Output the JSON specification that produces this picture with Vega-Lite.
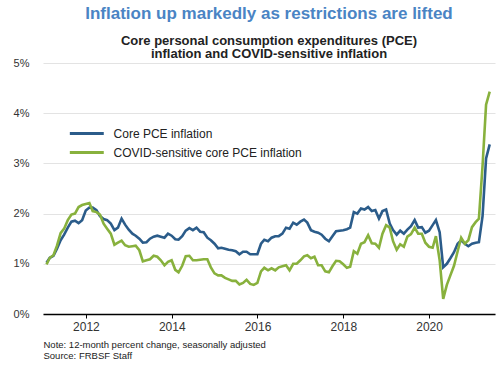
{
  "$schema": "https://vega.github.io/schema/vega-lite/v6.json",
  "width": 452,
  "height": 251,
  "autosize": "none",
  "padding": {"left": 43, "top": 63, "right": 5, "bottom": 51},
  "background": "white",
  "title": {
    "text": "Inflation up markedly as restrictions are lifted",
    "subtitle": ["Core personal consumption expenditures (PCE)", "inflation and COVID-sensitive inflation"],
    "anchor": "middle",
    "font": "Liberation Sans",
    "fontSize": 17,
    "fontWeight": "bold",
    "color": "#4a84c4",
    "subtitleFont": "Liberation Sans",
    "subtitleFontSize": 13,
    "subtitleFontWeight": "bold",
    "subtitleColor": "#222222",
    "subtitleLineHeight": 13.5,
    "subtitlePadding": 12,
    "offset": -5
  },
  "data": {"values": [
    {"date": "2011-01-31", "core": 1.02, "covid": 0.99},
    {"date": "2011-02-28", "core": 1.12, "covid": 1.12},
    {"date": "2011-03-31", "core": 1.16, "covid": 1.17},
    {"date": "2011-04-30", "core": 1.30, "covid": 1.36},
    {"date": "2011-05-31", "core": 1.47, "covid": 1.61},
    {"date": "2011-06-30", "core": 1.58, "covid": 1.70},
    {"date": "2011-07-31", "core": 1.72, "covid": 1.87},
    {"date": "2011-08-31", "core": 1.84, "covid": 1.98},
    {"date": "2011-09-30", "core": 1.86, "covid": 2.00},
    {"date": "2011-10-31", "core": 1.81, "covid": 2.13},
    {"date": "2011-11-30", "core": 1.87, "covid": 2.17},
    {"date": "2011-12-31", "core": 2.06, "covid": 2.19},
    {"date": "2012-01-31", "core": 2.12, "covid": 2.21},
    {"date": "2012-02-28", "core": 2.12, "covid": 2.05},
    {"date": "2012-03-31", "core": 2.07, "covid": 2.03},
    {"date": "2012-04-30", "core": 1.95, "covid": 1.98},
    {"date": "2012-05-31", "core": 1.89, "covid": 1.80},
    {"date": "2012-06-30", "core": 1.87, "covid": 1.70},
    {"date": "2012-07-31", "core": 1.80, "covid": 1.60},
    {"date": "2012-08-31", "core": 1.67, "covid": 1.38},
    {"date": "2012-09-30", "core": 1.72, "covid": 1.42},
    {"date": "2012-10-31", "core": 1.90, "covid": 1.46},
    {"date": "2012-11-30", "core": 1.78, "covid": 1.37},
    {"date": "2012-12-31", "core": 1.68, "covid": 1.34},
    {"date": "2013-01-31", "core": 1.60, "covid": 1.35},
    {"date": "2013-02-28", "core": 1.56, "covid": 1.36},
    {"date": "2013-03-31", "core": 1.50, "covid": 1.27},
    {"date": "2013-04-30", "core": 1.42, "covid": 1.05},
    {"date": "2013-05-31", "core": 1.43, "covid": 1.07},
    {"date": "2013-06-30", "core": 1.50, "covid": 1.09},
    {"date": "2013-07-31", "core": 1.54, "covid": 1.16},
    {"date": "2013-08-31", "core": 1.56, "covid": 1.14},
    {"date": "2013-09-30", "core": 1.54, "covid": 1.07},
    {"date": "2013-10-31", "core": 1.52, "covid": 0.97},
    {"date": "2013-11-30", "core": 1.60, "covid": 1.04},
    {"date": "2013-12-31", "core": 1.56, "covid": 1.07},
    {"date": "2014-01-31", "core": 1.49, "covid": 0.88},
    {"date": "2014-02-28", "core": 1.48, "covid": 0.83},
    {"date": "2014-03-31", "core": 1.55, "covid": 0.96},
    {"date": "2014-04-30", "core": 1.66, "covid": 1.15},
    {"date": "2014-05-31", "core": 1.71, "covid": 1.16},
    {"date": "2014-06-30", "core": 1.67, "covid": 1.07},
    {"date": "2014-07-31", "core": 1.72, "covid": 1.07},
    {"date": "2014-08-31", "core": 1.64, "covid": 1.08},
    {"date": "2014-09-30", "core": 1.63, "covid": 1.09},
    {"date": "2014-10-31", "core": 1.52, "covid": 1.09},
    {"date": "2014-11-30", "core": 1.47, "covid": 0.93},
    {"date": "2014-12-31", "core": 1.40, "covid": 0.81},
    {"date": "2015-01-31", "core": 1.31, "covid": 0.77},
    {"date": "2015-02-28", "core": 1.32, "covid": 0.77},
    {"date": "2015-03-31", "core": 1.30, "covid": 0.72},
    {"date": "2015-04-30", "core": 1.28, "covid": 0.69},
    {"date": "2015-05-31", "core": 1.27, "covid": 0.66},
    {"date": "2015-06-30", "core": 1.25, "covid": 0.66},
    {"date": "2015-07-31", "core": 1.19, "covid": 0.59},
    {"date": "2015-08-31", "core": 1.24, "covid": 0.62},
    {"date": "2015-09-30", "core": 1.24, "covid": 0.68},
    {"date": "2015-10-31", "core": 1.19, "covid": 0.60},
    {"date": "2015-11-30", "core": 1.19, "covid": 0.58},
    {"date": "2015-12-31", "core": 1.19, "covid": 0.62},
    {"date": "2016-01-31", "core": 1.40, "covid": 0.85},
    {"date": "2016-02-28", "core": 1.48, "covid": 0.92},
    {"date": "2016-03-31", "core": 1.45, "covid": 0.87},
    {"date": "2016-04-30", "core": 1.52, "covid": 0.91},
    {"date": "2016-05-31", "core": 1.55, "covid": 0.87},
    {"date": "2016-06-30", "core": 1.55, "covid": 0.93},
    {"date": "2016-07-31", "core": 1.60, "covid": 0.95},
    {"date": "2016-08-31", "core": 1.72, "covid": 0.97},
    {"date": "2016-09-30", "core": 1.70, "covid": 0.87},
    {"date": "2016-10-31", "core": 1.82, "covid": 1.00},
    {"date": "2016-11-30", "core": 1.78, "covid": 1.00},
    {"date": "2016-12-31", "core": 1.84, "covid": 1.07},
    {"date": "2017-01-31", "core": 1.88, "covid": 1.15},
    {"date": "2017-02-28", "core": 1.82, "covid": 1.17},
    {"date": "2017-03-31", "core": 1.67, "covid": 1.11},
    {"date": "2017-04-30", "core": 1.64, "covid": 1.14},
    {"date": "2017-05-31", "core": 1.62, "covid": 0.97},
    {"date": "2017-06-30", "core": 1.58, "covid": 0.97},
    {"date": "2017-07-31", "core": 1.50, "covid": 0.85},
    {"date": "2017-08-31", "core": 1.45, "covid": 0.83},
    {"date": "2017-09-30", "core": 1.55, "covid": 0.95},
    {"date": "2017-10-31", "core": 1.65, "covid": 1.06},
    {"date": "2017-11-30", "core": 1.66, "covid": 1.05},
    {"date": "2017-12-31", "core": 1.67, "covid": 0.99},
    {"date": "2018-01-31", "core": 1.69, "covid": 0.92},
    {"date": "2018-02-28", "core": 1.72, "covid": 0.94},
    {"date": "2018-03-31", "core": 2.03, "covid": 1.25},
    {"date": "2018-04-30", "core": 2.00, "covid": 1.20},
    {"date": "2018-05-31", "core": 2.10, "covid": 1.40},
    {"date": "2018-06-30", "core": 2.08, "covid": 1.43},
    {"date": "2018-07-31", "core": 2.13, "covid": 1.57},
    {"date": "2018-08-31", "core": 2.05, "covid": 1.41},
    {"date": "2018-09-30", "core": 2.07, "covid": 1.40},
    {"date": "2018-10-31", "core": 1.90, "covid": 1.32},
    {"date": "2018-11-30", "core": 2.05, "covid": 1.60},
    {"date": "2018-12-31", "core": 2.08, "covid": 1.77},
    {"date": "2019-01-31", "core": 1.80, "covid": 1.72},
    {"date": "2019-02-28", "core": 1.67, "covid": 1.45},
    {"date": "2019-03-31", "core": 1.58, "covid": 1.28},
    {"date": "2019-04-30", "core": 1.66, "covid": 1.39},
    {"date": "2019-05-31", "core": 1.60, "covid": 1.34},
    {"date": "2019-06-30", "core": 1.68, "covid": 1.54},
    {"date": "2019-07-31", "core": 1.75, "covid": 1.59},
    {"date": "2019-08-31", "core": 1.87, "covid": 1.72},
    {"date": "2019-09-30", "core": 1.72, "covid": 1.60},
    {"date": "2019-10-31", "core": 1.73, "covid": 1.60},
    {"date": "2019-11-30", "core": 1.62, "covid": 1.42},
    {"date": "2019-12-31", "core": 1.66, "covid": 1.34},
    {"date": "2020-01-31", "core": 1.77, "covid": 1.32},
    {"date": "2020-02-28", "core": 1.87, "covid": 1.55},
    {"date": "2020-03-31", "core": 1.63, "covid": 1.07},
    {"date": "2020-04-30", "core": 0.93, "covid": 0.30},
    {"date": "2020-05-31", "core": 1.00, "covid": 0.58},
    {"date": "2020-06-30", "core": 1.11, "covid": 0.77},
    {"date": "2020-07-31", "core": 1.23, "covid": 0.96},
    {"date": "2020-08-31", "core": 1.40, "covid": 1.25},
    {"date": "2020-09-30", "core": 1.47, "covid": 1.52},
    {"date": "2020-10-31", "core": 1.40, "covid": 1.40},
    {"date": "2020-11-30", "core": 1.35, "covid": 1.47},
    {"date": "2020-12-31", "core": 1.40, "covid": 1.73},
    {"date": "2021-01-31", "core": 1.42, "covid": 1.83},
    {"date": "2021-02-28", "core": 1.43, "covid": 1.90},
    {"date": "2021-03-31", "core": 1.95, "covid": 2.95},
    {"date": "2021-04-30", "core": 3.10, "covid": 4.17},
    {"date": "2021-05-31", "core": 3.38, "covid": 4.43}
  ]},
  "transform": [{"fold": ["core", "covid"], "as": ["series", "value"]}],
  "mark": {"type": "line", "strokeWidth": 2.6, "interpolate": "linear"},
  "encoding": {
    "x": {
      "field": "date",
      "type": "temporal",
      "scale": {"domain": [{"year": 2011, "month": 1, "date": 1}, {"year": 2021, "month": 7, "date": 15}]},
      "axis": {
        "values": [{"year": 2012, "month": 1, "date": 1}, {"year": 2014, "month": 1, "date": 1}, {"year": 2016, "month": 1, "date": 1}, {"year": 2018, "month": 1, "date": 1}, {"year": 2020, "month": 1, "date": 1}],
        "format": "%Y",
        "grid": false,
        "domainColor": "#000000",
        "domainWidth": 1.5,
        "tickColor": "#000000",
        "tickSize": 4,
        "tickWidth": 1,
        "labelFont": "Liberation Sans",
        "labelFontSize": 12,
        "labelColor": "#333333",
        "labelPadding": 3,
        "labelFlush": false,
        "title": ["Note: 12-month percent change, seasonally adjusted", "Source: FRBSF Staff"],
        "titleAnchor": "start",
        "titleAlign": "left",
        "titleFont": "Liberation Sans",
        "titleFontSize": 9.5,
        "titleFontWeight": "normal",
        "titleColor": "#222222",
        "titleLineHeight": 11,
        "titlePadding": 7
      }
    },
    "y": {
      "field": "value",
      "type": "quantitative",
      "scale": {"domain": [0, 5]},
      "axis": {
        "values": [0, 1, 2, 3, 4, 5],
        "labelExpr": "datum.value + '%'",
        "domain": false,
        "ticks": false,
        "grid": true,
        "gridColor": "#e3e3e3",
        "gridWidth": 1,
        "labelFont": "Liberation Sans",
        "labelFontSize": 11,
        "labelColor": "#333333",
        "labelPadding": 14,
        "title": null
      }
    },
    "color": {
      "field": "series",
      "type": "nominal",
      "scale": {"domain": ["core", "covid"], "range": ["#2b5c8a", "#88b13d"]},
      "legend": {
        "orient": "none",
        "legendX": 36.3,
        "legendY": 63,
        "title": null,
        "symbolType": "M-3,0H3",
        "symbolStrokeWidth": 3,
        "symbolSize": 128,
        "symbolFillColor": "transparent",
        "labelFont": "Liberation Sans",
        "labelFontSize": 12,
        "labelColor": "#222222",
        "labelOffset": 19.3,
        "labelLimit": 400,
        "rowPadding": 5,
        "labelExpr": "datum.value == 'core' ? 'Core PCE inflation' : 'COVID-sensitive core PCE inflation'"
      }
    }
  },
  "config": {"view": {"stroke": null}, "font": "Liberation Sans"}
}
